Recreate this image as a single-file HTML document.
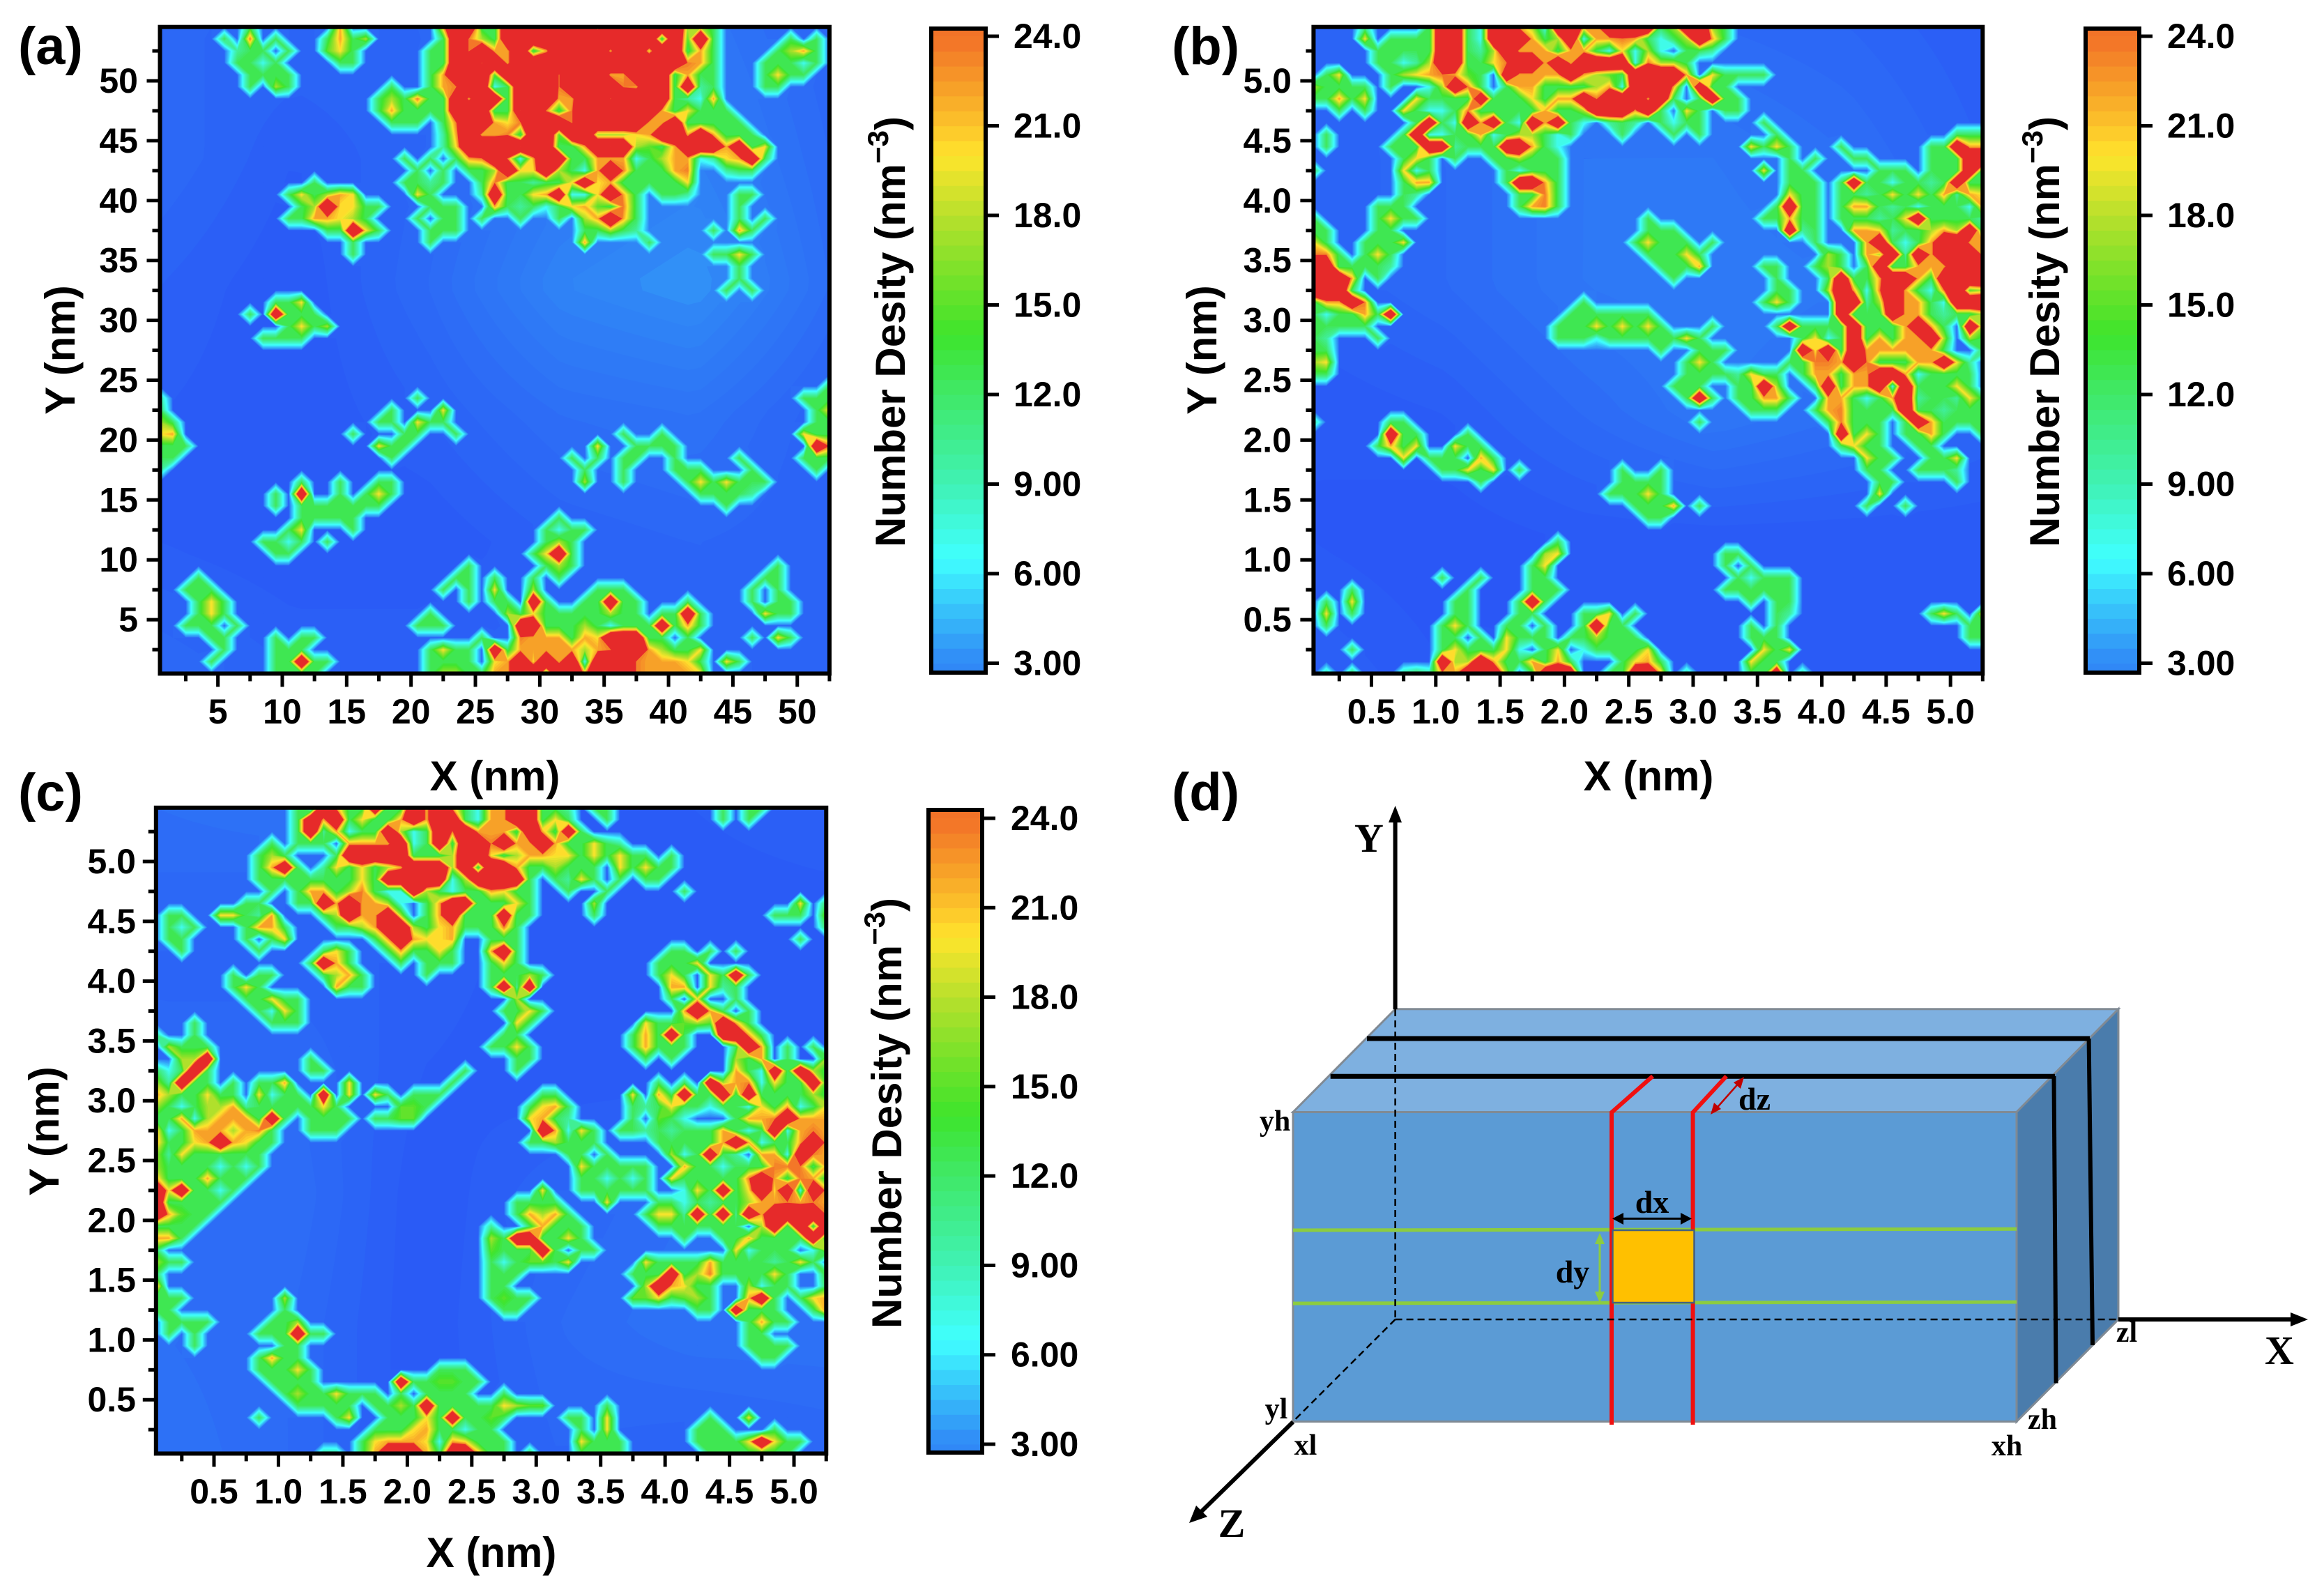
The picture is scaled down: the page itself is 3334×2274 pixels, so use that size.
<!DOCTYPE html>
<html lang="en">
<head>
<meta charset="utf-8">
<title>Number density maps and control volume schematic</title>
<style>
html,body{margin:0;padding:0;background:#fff}
svg{display:block}
text{font-family:"Liberation Sans",sans-serif;font-weight:bold;fill:#000}
.serif{font-family:"Liberation Serif",serif;font-weight:bold}
</style>
</head>
<body>
<svg id="figure" xmlns="http://www.w3.org/2000/svg" width="3334" height="2274" viewBox="0 0 3334 2274">
<rect width="3334" height="2274" fill="#fff"/>
<g id="charts"></g>

<g>
<text x="1681" y="1162" font-size="76">(d)</text>
<polygon points="1855,1595.5 2001.6,1447.8 3039,1447.8 2893,1595.5" fill="#7eb0e0" stroke="#808a94" stroke-width="3"/>
<polygon points="2893,1595.5 3039,1447.8 3039,1893 2893,2039.5" fill="#4a7cac" stroke="#808a94" stroke-width="3"/>
<rect x="1855" y="1595.5" width="1038" height="444" fill="#5b9bd5" stroke="#808a94" stroke-width="3"/>
<line x1="1961" y1="1490" x2="2998" y2="1490" stroke="#000" stroke-width="7"/>
<line x1="1908.7" y1="1544.3" x2="2948" y2="1544.3" stroke="#000" stroke-width="7"/>
<line x1="2996.6" y1="1490" x2="3002" y2="1930" stroke="#000" stroke-width="6"/>
<line x1="2946.5" y1="1544" x2="2949.6" y2="1984.5" stroke="#000" stroke-width="6"/>
<line x1="1855" y1="1765" x2="2893" y2="1763.3" stroke="#8ccc40" stroke-width="5"/>
<line x1="1855" y1="1870" x2="2893" y2="1868" stroke="#8ccc40" stroke-width="5"/>
<polyline points="2371,1544 2312,1596 2312,2044" fill="none" stroke="#f01010" stroke-width="6"/>
<polyline points="2476.7,1544 2428.6,1596 2428.6,2044" fill="none" stroke="#f01010" stroke-width="6"/>
<rect x="2313.5" y="1765" width="117" height="104" fill="#ffc000" stroke="#44617f" stroke-width="2.5"/>
<line x1="2001.6" y1="1448" x2="2001.6" y2="1893" stroke="#000" stroke-width="2.5" stroke-dasharray="10 6"/>
<line x1="2001.6" y1="1893" x2="3039" y2="1893" stroke="#000" stroke-width="2.5" stroke-dasharray="10 6"/>
<line x1="2001.6" y1="1893" x2="1855" y2="2039.5" stroke="#000" stroke-width="2.5" stroke-dasharray="10 6"/>
<line x1="2001.6" y1="1448" x2="2001.6" y2="1176" stroke="#000" stroke-width="6"/>
<polygon points="2001.6,1156 1992,1180 2011,1180" fill="#000"/>
<line x1="3039" y1="1893" x2="3290" y2="1893" stroke="#000" stroke-width="6"/>
<polygon points="3311,1893 3286,1883 3286,1903" fill="#000"/>
<line x1="1855" y1="2040" x2="1720" y2="2172" stroke="#000" stroke-width="6"/>
<polygon points="1706,2185 1716,2160 1732,2176" fill="#000"/>
<line x1="2322" y1="1748.4" x2="2418" y2="1748.4" stroke="#000" stroke-width="3"/>
<polygon points="2313,1748.4 2329,1740 2329,1757" fill="#000"/>
<polygon points="2427,1748.4 2411,1740 2411,1757" fill="#000"/>
<line x1="2295" y1="1778" x2="2295" y2="1860" stroke="#8ccc40" stroke-width="3"/>
<polygon points="2295,1769 2288,1785 2302,1785" fill="#8ccc40"/>
<polygon points="2295,1869 2288,1853 2302,1853" fill="#8ccc40"/>
<line x1="2497" y1="1551" x2="2459" y2="1594" stroke="#c00000" stroke-width="2.5"/>
<polygon points="2502,1545 2487,1553 2497,1562" fill="#c00000"/>
<polygon points="2454,1599 2469,1591 2459,1582" fill="#c00000"/>
<text class="serif" x="1964" y="1222" font-size="58" text-anchor="middle">Y</text>
<text class="serif" x="3270" y="1957" font-size="58" text-anchor="middle">X</text>
<text class="serif" x="1767" y="2205" font-size="58" text-anchor="middle">Z</text>
<text class="serif" x="1829" y="1622" font-size="42" text-anchor="middle">yh</text>
<text class="serif" x="1831" y="2035" font-size="42" text-anchor="middle">yl</text>
<text class="serif" x="1873" y="2087" font-size="42" text-anchor="middle">xl</text>
<text class="serif" x="2879" y="2088" font-size="42" text-anchor="middle">xh</text>
<text class="serif" x="2930" y="2050" font-size="42" text-anchor="middle">zh</text>
<text class="serif" x="3051" y="1925" font-size="42" text-anchor="middle">zl</text>
<text class="serif" x="2370" y="1740" font-size="46" text-anchor="middle">dx</text>
<text class="serif" x="2256" y="1840" font-size="46" text-anchor="middle">dy</text>
<text class="serif" x="2517" y="1592" font-size="46" text-anchor="middle">dz</text>
</g>
</svg>

<script>
// density classes: digit in a grid row selects one of these number densities (nm^-3)
const classValues = [0, 7, 10, 12.5, 15, 17.5, 20, 22, 23.5, 38];
// level contours, colour scale
const bandStep = 0.5;
const blueStep = 0.1;
const bandMin = 1.5;
const blueMax = 3;
const bandMax = 24;
const scaleValues = [1.5, 3, 5, 6.5, 9, 12, 14, 16, 18, 20, 21, 22, 24];
const scaleColors = ["#2848f6","#3088f6","#38c8fa","#40ffff","#40f2b4","#40e868","#3ee42c","#78e22a","#b8e02c","#ffe42c","#fcc42a","#f8a828","#f27028"];
const overColor = "#e62a2a";
// tick labels
const wideTicks = [5,10,15,20,25,30,35,40,45,50];
const nanoTicks = [0.5,1,1.5,2,2.5,3,3.5,4,4.5,5];
const colorbarTicks = [24,21,18,15,12,9,6,3];
const colorbarLabels = ["24.0","21.0","18.0","15.0","12.0","9.00","6.00","3.00"];
// coarse blue background level of each panel
const bgA = [[2.2,2.2,2.2,2.4,2.6,2.2],[2.3,2.0,2.2,2.6,2.8,2.3],[2.1,1.9,2.3,2.9,3.1,2.4],[2.0,1.9,2.1,2.4,2.5,2.1],[2.0,1.9,1.9,2.1,2.2,2.1],[2.3,2.1,2.1,2.2,2.2,2.2]];
const bgB = [[2.1,2.1,2.3,2.3,2.2,2.0],[2.1,2.3,2.6,2.6,2.4,2.1],[2.1,2.3,2.6,2.7,2.6,2.2],[1.9,2.0,2.3,2.6,2.4,2.2],[1.9,1.8,1.9,1.9,1.9,1.9],[2.1,1.9,2.0,2.0,2.0,2.0]];
const bgC = [[2.4,2.5,2.1,1.9,2.0,2.1],[2.2,2.1,2.1,1.9,1.9,1.9],[2.2,2.3,2.0,1.9,1.9,1.9],[2.4,2.4,1.9,2.2,2.4,2.3],[2.4,2.3,1.9,2.3,2.5,2.5],[2.5,2.3,1.9,2.2,2.1,2.2]];
// grid rows from the top of each map; token "col:digits" sets classes starting at that column
const gridA = [
"7:3 14:7 22:7993399999996999999553",
"5:3 7:8 9:3 13:3735 22:3985399999999999939493 49:3 51:3",
"6:233 10:3 13:463 21:33989779379999799699373 48:3573",
"6:3313 14:33 21:33998979999999999999873 47:33313",
"7:3333 21:37999499998999779993733 47:3633",
"7:3 9:53 18:3 21:37899139998999987993923 47:33",
"17:353833979939997799899993217",
"17:3733339993399838999999736333",
"18:333 22:389976899989999977933333",
"22:2797783994995556799797333",
"22:26999999933799954379997936",
"19:3 21:3 23:3789817993377713577126793",
"20:3 22:3 24:335966953179833378 44:233",
"12:3 19:3323 25:38332336967333336",
"10:363576 20:63 25:2933679116973 39:332 45:33",
"11:3596633 21:333 26:732313674383 45:3",
"10:3377653 20:3 22:33 25:3 28:3 31:3 33:57973 45:3 47:3",
"13:33963 21:333 33:33532 43:3 45:73",
"15:3 21:3 33:7 38:3",
"15:3 43:3363",
"45:3",
"45:3",
"44:3 46:3",
"9:336",
"7:3 9:9333",
"10:3635",
"8:3333",
"",
"",
"",
"52:3",
"0:2 20:3 50:333",
"0:3 18:3 22:6 51:36",
"0:53 17:33 20:633 51:33",
"0:67 15:3 19:33 23:3 36:3 39:3 50:6 51:33",
"0:333 17:633 34:6 37:3333 51:98",
"0:33 18:3 32:3 34:3 36:33 40:3 45:3 50:333",
"0:2 33:3 36:3 40:333 46:3 51:3",
"11:3 14:3 17:33 33:5 36:3 41:3636333",
"9:3 11:9 14:3 16:363 42:33332",
"9:3 11:3333333 44:3",
"11:33333 31:3",
"10:36 15:3 30:3133",
"8:3313 13:3 30:353",
"9:33 29:3693",
"24:3 30:353 48:3",
"3:3 23:33 26:3 29:3 31:3 47:33",
"2:333 22:3 24:3 26:6 29:5 34:333 46:3 48:3",
"3:363 24:3 26:33 29:93 33:33933 41:3 46:3 48:33",
"3:363 21:3 27:53633333533 39:3393 47:633",
"2:333 6:3 20:333 28:993335313339373",
"4:33 9:3 11:33 25:3 28:877737699933 41:3 46:3 48:63",
"5:3 9:333 21:3633 26:937777757899753 41:36",
"4:3 9:33933 21:3333 26:67969791999877763 44:63",
"9:3333 21:3553377993997999877776"
];
const gridB = [
"4:2 9:399319775199779999359953",
"4:6 6:3333 10:99319997359177873135973",
"5:33333993259777377316151 29:332",
"5:3312599336899797999918553",
"1:36 6:35678743 15:977779754399997 31:63333",
"0:53333 6:3 9:15983 15:37733335719997 30:933",
"0:33736 8:633339333637798999793 30:3933",
"2:3 4:3 7:631138333337335999793 29:63 32:33",
"8:39319793197931 23:232 27:3133 35:3",
"1:3 7:39113371355313 24:3 28:3 30:3 36:3 50:333",
"1:3 6:33399233399731 34:6363 41:3 48:33977",
"7:363 11:3 14:335333 37:3 39:3 42:33 48:33399",
"0:3 7:613 15:31333 35:6 37:33 44:333 48:33393",
"7:377 15:39973 37:333 41:393313323933",
"7:32 16:3383 37:633 41:332363637276",
"5:333 16:3783 36:3933 41:377323133317",
"0:3 5:3633 26:3 35:33733 41:333236933332",
"0:33 5:33 26:333 37:923 42:77623357593",
"0:63 4:3336 25:36333 31:3 39:3 43:7931379977",
"0:883 4:363 26:33363 40:53 43:7592979997",
"0:9933332 27:3337 35:33 39:353 43:3933777999",
"0:9997 5:3 28:3 36:3 40:3933799739999",
"0:9993 36:33 40:5971897318945",
"0:37798 21:3 35:363 41:992597731999",
"0:3133739 20:3333333 41:933397732335",
"0:33333 19:333636363 31:3 36:39333393337973 51:95",
"0:32 5:3 19:333133333363 38:361393737795 51:53",
"0:33 27:3 30:333 38:969397777773 52:3",
"0:56 29:363 37:338879833377962",
"0:33 29:33332633 38:37737799713333",
"28:333 33:3395 39:3937791933363",
"29:393 33:33773 40:7731379233263",
"34:333 39:37833339332333",
"0:2 6:33 30:3 40:38333 46:3973333",
"6:933 12:3 41:9363 46:3373 52:3",
"5:3736 11:633 41:3633 47:33",
"7:6 9:333 13:73 43:633 48:336",
"10:33636 16:3 24:3 27:3 43:33 47:333 50:2",
"13:3 24:3333 44:33 50:3",
"23:33363 44:6",
"25:3337 30:3 43:3 46:3",
"26:33",
"",
"19:3",
"18:56 32:33",
"17:36 32:3 34:3",
"10:3 13:3 17:33 33:31333",
"3:3 12:3 17:333 32:333333",
"1:3 3:6 11:33 16:393 34:3 36:33",
"1:6 3:3 11:33 16:33 21:336 25:3 36:32 48:363 52:6",
"1:3 10:363 15:33 18:3 21:3933 34:3 36:3 51:33",
"10:33 13:3 15:6333 20:335333 34:333 51:33",
"3:3 10:3633361 18:36 21:133336 35:636",
"10:95597337373 24:3673 34:633",
"1:2 3:3 7:232 10:779995 17:3999 23:33997 29:2 34:339 38:2"
];
const gridC = [
"11:3 13:97339339797317799332 34:33 44:3 46:33",
"11:3979363379799317799363 35:3 44:3 46:3",
"11:39271339513989777397393",
"9:3 11:333 15:7777913939989779733632",
"8:353 14:3999993335996357766363633 40:3",
"8:3793 13:2636357999593997335333 36:63633",
"8:3333333363999991599993 31:3263 36:3 38:33",
"9:3 11:3773583119531337633 32:3 35:3 41:3",
"7:33 11:339797751 21:379933363 34:5 50:6 52:3",
"1:33 5:66327 13:3597795 21:379333933 34:3 48:333 52:5",
"1:313 7:3773 14:335799536733383 52:3",
"1:33 7:3 9:36 17:3797667 26:333 50:3",
"2:3 8:3 13:363 18:373363 26:793 40:33 43:3 45:3",
"12:3973 19:3 21:333 26:363 39:3336",
"6:3 8:33 13:3573 21:3 26:33353 39:363 43:6393",
"6:363 14:733 26:3929 40:77 43:623 45:3",
"7:33633 28:5 40:3 42:6 45:3",
"8:3163 27:3363 41:7973 46:3",
"3:3 9:333 28:63 38:633454973",
"0:2 3:3 27:33 37:37393 44:9973",
"1:5333 26:3363 37:37333 45:397 49:3 51:3",
"2:559 12:3 28:33 38:3 40:3 45:537 49:3 52:5",
"0:31393 12:33 24:3 28:3 45:73193953",
"0:52933 6:3 8:337 15:6 23:3 39:3 41:3 43:9578163393",
"0:7533633 8:6133 13:9 15:6 17:63 20:333 30:33 37:6 39:73933939333353",
"0:53135572 8:3333363 19:443 29:3673 37:3 38:236331331637136",
"0:33715777393 12:3333 17:3344 29:6732 37:3 39:431 45:37789777",
"0:7137775783 12:333 30:97163 36:33232333731391787",
"0:7336797633 29:335333 39:33333797133797",
"0:526333333 32:33 35:3 40:513932 47:771987",
"0:533331313 33:633333 41:733133388837",
"0:73337333 33:331313 40:6333338973873",
"0:9693313 30:6 33:333333 41:163936969197",
"0:933333 28:3333 35:6 39:33 41:132335778787",
"0:97433 28:37573 38:366293929799998",
"0:3333 26:2 29:37333 39:3333333 47:593939",
"0:773 26:53993363 41:3 44:337333392",
"0:3 26:433393 33:33 45:61333 51:15",
"0:533 26:3134436 38:63333733332363",
"0:3 26:333 37:3339358333363 52:4",
"0:8 26:33 38:597633 46:5133 52:3",
"0:333 10:5 26:3433 37:4463453 46:793 50:367",
"0:33 10:3 27:33 42:33 45:9333 51:38",
"1:3333 9:335 46:3733",
"1:3 3:3 8:333933 46:33",
"3:3 10:33 46:3333",
"8:3733 47:33",
"8:33363 22:333",
"9:3333 19:9334433",
"10:35336333 19:3 21:3333 27:3",
"11:33333 17:33539333336544 35:3",
"8:3 14:36 18:3336393343 32:33 35:6 43:3 46:6",
"17:3336733133 33:3 35:6 42:333 48:3",
"16:367776176333 33:6333 42:3333 46:69633",
"13:22 16:379997399733 29:3 33:3333 43:3333333"
];

const SVGNS = "http://www.w3.org/2000/svg";
const COLS = 53, ROWS = 55;

function make(parent, tag, attrs, text) {
  const el = document.createElementNS(SVGNS, tag);
  for (const k in attrs) el.setAttribute(k, attrs[k]);
  if (text !== undefined) el.textContent = text;
  parent.appendChild(el);
  return el;
}
function hexToRgb(h) {
  return [parseInt(h.slice(1,3),16), parseInt(h.slice(3,5),16), parseInt(h.slice(5,7),16)];
}
function colorFor(v) {
  if (v >= bandMax) return overColor;
  if (v <= scaleValues[0]) return scaleColors[0];
  for (let i = 1; i < scaleValues.length; i++) {
    if (v <= scaleValues[i]) {
      const t = (v - scaleValues[i-1]) / (scaleValues[i] - scaleValues[i-1]);
      const a = hexToRgb(scaleColors[i-1]), b = hexToRgb(scaleColors[i]);
      return "rgb(" + a.map((c, n) => Math.round(c + (b[n] - c) * t)).join(",") + ")";
    }
  }
  return scaleColors[scaleColors.length - 1];
}
function contourLevels() {
  const levels = [];
  const nBlue = Math.round((blueMax - bandMin) / blueStep);
  for (let i = 0; i < nBlue; i++) levels.push(bandMin + i * blueStep);
  const nBand = Math.round((bandMax - blueMax) / bandStep);
  for (let i = 0; i <= nBand; i++) levels.push(blueMax + i * bandStep);
  return levels;
}
function backgroundAt(bg, r, c) {
  const v = r / (ROWS - 1) * (bg.length - 1), u = c / (COLS - 1) * (bg[0].length - 1);
  const r0 = Math.min(bg.length - 2, Math.floor(v)), c0 = Math.min(bg[0].length - 2, Math.floor(u));
  const fv = v - r0, fu = u - c0;
  const top = bg[r0][c0] * (1 - fu) + bg[r0][c0+1] * fu;
  const low = bg[r0+1][c0] * (1 - fu) + bg[r0+1][c0+1] * fu;
  return top * (1 - fv) + low * fv;
}
function buildField(rows, bg) {
  const field = [];
  for (let r = 0; r < ROWS; r++) {
    const line = [];
    for (let c = 0; c < COLS; c++) line.push(backgroundAt(bg, r, c));
    field.push(line);
  }
  rows.forEach((row, r) => {
    if (!row) return;
    row.split(" ").forEach(tok => {
      const parts = tok.split(":");
      const start = parseInt(parts[0], 10);
      for (let k = 0; k < parts[1].length; k++) {
        const c = start + k;
        if (c < COLS) field[r][c] = classValues[parseInt(parts[1][k], 10)];
      }
    });
  });
  return field;
}
function clipCell(pts, level) {
  const out = [];
  for (let i = 0; i < pts.length; i++) {
    const p = pts[i], q = pts[(i + 1) % pts.length];
    const pin = p[2] >= level, qin = q[2] >= level;
    if (pin) out.push(p);
    if (pin !== qin) {
      const t = (level - p[2]) / (q[2] - p[2]);
      out.push([p[0] + (q[0] - p[0]) * t, p[1] + (q[1] - p[1]) * t, level]);
    }
  }
  return out;
}
function drawContours(group, field, xNode, yNode) {
  const levels = contourLevels();
  const base = make(group, "rect", {x: xNode(0), y: yNode(0), width: xNode(COLS-1) - xNode(0), height: yNode(ROWS-1) - yNode(0), fill: colorFor(bandMin)});
  
  
  for (let n = 1; n < levels.length; n++) {
    const L = levels[n];
    const isTop = n === levels.length - 1;
    const next = isTop ? Infinity : levels[n + 1];
    let d = "";
    for (let r = 0; r < ROWS - 1; r++) {
      for (let c = 0; c < COLS - 1; c++) {
        const a = field[r][c], b = field[r][c+1], e = field[r+1][c+1], f = field[r+1][c];
        const mx = Math.max(a, b, e, f), mn = Math.min(a, b, e, f);
        if (mx < L) continue;
        if (mn >= next) continue;
        const poly = clipCell([
          [xNode(c), yNode(r), a], [xNode(c+1), yNode(r), b],
          [xNode(c+1), yNode(r+1), e], [xNode(c), yNode(r+1), f]
        ], L);
        if (poly.length < 3) continue;
        d += "M" + poly.map(p => p[0].toFixed(1) + " " + p[1].toFixed(1)).join("L") + "Z";
      }
    }
    if (!d) continue;
    const band = make(group, "path", {d: d, fill: colorFor(isTop ? L : (L + next) / 2)});
    
    
  }
}
function drawPanel(root, p) {
  const g = make(root, "g", {});
  
  

  const xNode = i => p.x0 + i * p.dx;
  const yNode = r => p.y0 + r * p.dy;
  const xScale = v => p.x0 + (v - p.xMin) / p.step * p.dx;
  const yScale = v => p.y0 + (p.yMax - v) / p.step * p.dy;
  const w = 52 * p.dx, h = 54 * p.dy;

  const clip = make(g, "clipPath", {id: "clip-" + p.key});
  make(clip, "rect", {x: p.x0, y: p.y0, width: w, height: h});
  const map = make(g, "g", {"clip-path": "url(#clip-" + p.key + ")"});
  
  
  drawContours(map, buildField(p.grid, p.bg), xNode, yNode);

  const frame = make(g, "rect", {x: p.x0, y: p.y0, width: w, height: h, fill: "none", stroke: "#000", "stroke-width": 6});
  
  

  const half = (p.ticks[1] - p.ticks[0]) / 2;
  const minors = p.ticks.map(v => v - half).concat([p.ticks[p.ticks.length - 1] + half]);
  const bottom = p.y0 + h, left = p.x0;
  minors.forEach(v => {
    const mx = make(g, "line", {x1: xScale(v), x2: xScale(v), y1: bottom, y2: bottom + 11, stroke: "#000", "stroke-width": 5});
    
    
    const my = make(g, "line", {x1: left, x2: left - 11, y1: yScale(v), y2: yScale(v), stroke: "#000", "stroke-width": 5});
    
    
  });
  p.ticks.forEach(v => {
    const label = p.step === 1 ? String(v) : v.toFixed(1);
    const tx = make(g, "line", {x1: xScale(v), x2: xScale(v), y1: bottom, y2: bottom + 19, stroke: "#000", "stroke-width": 5});
    
    
    const ty = make(g, "line", {x1: left, x2: left - 19, y1: yScale(v), y2: yScale(v), stroke: "#000", "stroke-width": 5});
    
    
    const lx = make(g, "text", {x: xScale(v), y: p.xLabelY, "font-size": 50, "text-anchor": "middle"}, label);
    
    
    const ly = make(g, "text", {x: p.yLabelX, y: yScale(v) + 17, "font-size": 50, "text-anchor": "end"}, label);
    
    
  });

  const xt = make(g, "text", {x: p.xTitleX, y: p.xTitleY, "font-size": 60, "text-anchor": "middle"}, "X (nm)");
  
  
  const yt = make(g, "text", {transform: "translate(" + p.yTitleX + "," + p.yTitleY + ") rotate(-90)", "font-size": 60, "text-anchor": "middle"}, "Y (nm)");
  
  
  const pl = make(g, "text", {x: p.labelX, y: p.labelY, "font-size": 76}, "(" + p.key + ")");
  
  

  // colour bar
  const cb = p.cb;
  const cbY = v => cb.y24 + (24 - v) * (cb.y3 - cb.y24) / 21;
  const bar = make(g, "g", {});
  
  
  const capTop = make(bar, "rect", {x: cb.x, y: cb.top, width: cb.w, height: cb.y24 - cb.top + 1, fill: colorFor(23.9)});
  
  
  const capBottom = make(bar, "rect", {x: cb.x, y: cb.y3 - 1, width: cb.w, height: cb.bottom - cb.y3 + 1, fill: colorFor(3)});
  
  
  for (let v = 3; v < 24; v += bandStep) {
    const swatch = make(bar, "rect", {x: cb.x, y: cbY(v + bandStep), width: cb.w, height: cbY(v) - cbY(v + bandStep) + 0.6, fill: colorFor(v + bandStep / 2)});
    
    
  }
  const cbFrame = make(bar, "rect", {x: cb.x, y: cb.top, width: cb.w, height: cb.bottom - cb.top, fill: "none", stroke: "#000", "stroke-width": 6});
  
  
  colorbarTicks.forEach((v, i) => {
    const t = make(bar, "line", {x1: cb.x + cb.w, x2: cb.x + cb.w + 19, y1: cbY(v), y2: cbY(v), stroke: "#000", "stroke-width": 5});
    
    
    const l = make(bar, "text", {x: cb.labelX, y: cbY(v) + 17, "font-size": 50}, colorbarLabels[i]);
    
    
  });
  const title = make(bar, "text", {transform: "translate(" + cb.titleX + "," + cb.titleY + ") rotate(-90)", "font-size": 60, "text-anchor": "middle"});
  
  
  make(title, "tspan", {}, "Number Desity (nm");
  make(title, "tspan", {"font-size": 42, dy: -24}, "\u22123");
  make(title, "tspan", {dy: 24}, ")");
}

const layout = [
  {key:"a", grid:gridA, bg:bgA, x0:229.5, dx:18.47, y0:38.7, dy:17.18, xMin:0.5, yMax:54.5, step:1, ticks:wideTicks,
   xLabelY:1038, yLabelX:198, xTitleX:710, xTitleY:1134, yTitleX:107, yTitleY:502, labelX:26, labelY:92,
   cb:{x:1336, w:78, top:41, bottom:965, y24:52, y3:951.5, labelX:1454, titleX:1298, titleY:476}},
  {key:"b", grid:gridB, bg:bgB, x0:1884.4, dx:18.46, y0:38.7, dy:17.18, xMin:0.05, yMax:5.45, step:0.1, ticks:nanoTicks,
   xLabelY:1038, yLabelX:1853, xTitleX:2365, xTitleY:1134, yTitleX:1745, yTitleY:502, labelX:1681, labelY:92,
   cb:{x:2992, w:77, top:41, bottom:965, y24:52, y3:951.5, labelX:3109, titleX:2954, titleY:476}},
  {key:"c", grid:gridC, bg:bgC, x0:223.8, dx:18.49, y0:1158.8, dy:17.16, xMin:0.05, yMax:5.45, step:0.1, ticks:nanoTicks,
   xLabelY:2157, yLabelX:195, xTitleX:705, xTitleY:2248, yTitleX:84, yTitleY:1623, labelX:26, labelY:1163,
   cb:{x:1332, w:77, top:1162, bottom:2084, y24:1174, y3:2072, labelX:1450, titleX:1293, titleY:1597}}
];
const chartsRoot = document.getElementById("charts");
layout.forEach(p => drawPanel(chartsRoot, p));
</script>
</body>
</html>
